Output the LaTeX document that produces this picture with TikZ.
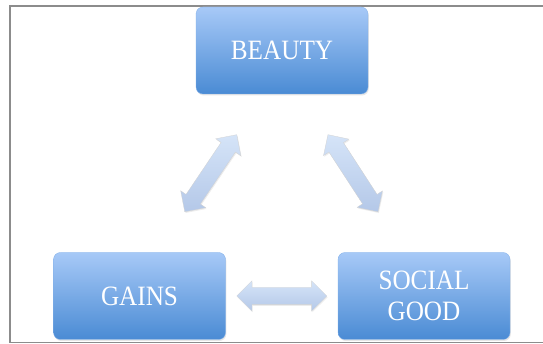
\documentclass[tikz,border=0pt]{standalone}
\usepackage{fontspec}
\newfontfamily\boxfont[FakeStretch=0.9]{Liberation Serif}
\usepackage{tikz}
\usetikzlibrary{shapes.arrows, shadows, calc}
\definecolor{boxtop}{HTML}{A7C9F7}
\definecolor{boxbot}{HTML}{4A8BD4}
\definecolor{arrtop}{HTML}{D5E4F8}
\definecolor{arrbot}{HTML}{B4C8E8}
\definecolor{framegray}{HTML}{8C8C8C}
\tikzset{
    box/.style={rounded corners=7pt, minimum width=172pt, minimum height=87pt, top color=boxtop, bottom color=boxbot, draw=boxtop!60!boxbot, line width=0.3pt, text=white, align=center, font=\boxfont\fontsize{28}{31}\selectfont, drop shadow={shadow xshift=0.8pt, shadow yshift=-1.5pt, opacity=0.2}}, % 渐变圆角方框
    dblarrow/.style={double arrow, double arrow head extend=6.5pt, minimum width=30pt, minimum height=#1, inner xsep=0pt, inner ysep=8.5pt, top color=arrtop, bottom color=arrbot, draw=gray!35, line width=0.3pt, drop shadow={shadow xshift=0.8pt, shadow yshift=-1.2pt, opacity=0.15}} % 双向粗箭头
}

\begin{document}
\begin{tikzpicture}[x=1pt, y=1pt]
    \useasboundingbox (0,0) rectangle (543,344);
    \draw[framegray, line width=1.6pt] (545,338) -- (10,338) -- (10,1.5) -- (545,1.5);

    \node[box] (beauty) at (282,293.5) {BEAUTY};
    \node[box] (gains) at (139.5,48) {GAINS};
    \node[box] (social) at (424,48) {SOCIAL\\GOOD};

    \node[dblarrow=90pt] (gs) at ($(gains)!0.5!(social)$) {};
    \node[dblarrow=93pt, rotate=56] (bg) at ($(beauty)!0.5!(gains)$) {};
    \node[dblarrow=92pt, rotate=123] (bs) at ($(beauty)!0.5!(social)$) {};
\end{tikzpicture}
\end{document}
